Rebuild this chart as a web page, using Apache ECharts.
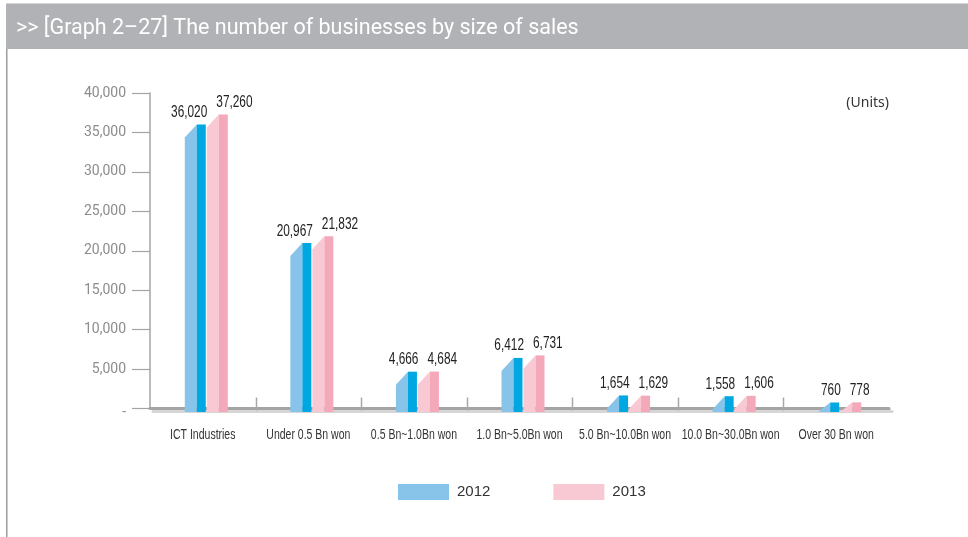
<!DOCTYPE html>
<html><head><meta charset="utf-8">
<script src="https://cdn.jsdelivr.net/npm/echarts@6/dist/echarts.min.js"></script>
<style>html,body{margin:0;padding:0;background:#fff;}#c{width:968px;height:537px;}</style>
</head><body><div id="c"></div>
<script>
const categories = ['ICT Industries','Under 0.5 Bn won','0.5 Bn~1.0Bn won','1.0 Bn~5.0Bn won','5.0 Bn~10.0Bn won','10.0 Bn~30.0Bn won','Over 30 Bn won'];
const values2012 = [36020, 20967, 4666, 6412, 1654, 1558, 760];
const values2013 = [37260, 21832, 4684, 6731, 1629, 1606, 778];
const seriesNames = ['2012', '2013'];
const yTicks = [0, 5000, 10000, 15000, 20000, 25000, 30000, 35000, 40000];

const SANS = "'Liberation Sans', Arial, sans-serif";
const frontColors = ['#00A7E1', '#F4A9BB'];
const sideColors = ['#88C4EA', '#F9C9D3'];

function fmt(v){ return v.toLocaleString('en-US'); }

function makeRender(s){
  return function(params, api){
    const idx = api.value(0), val = api.value(1);
    const base = api.coord([idx, 0]);
    const top = api.coord([idx, val]);
    const w = api.size([1, 0])[0];
    const k = w / 105.5;
    const cx = base[0] + 3.5 * k;
    const floorY = base[1] + 3.5;
    const topY = top[1];
    let sideL, sideR, frontR;
    if (s === 0) { sideL = cx - 21.5*k; sideR = cx - 9.5*k; frontR = cx - 0.5*k; }
    else { sideL = cx + 0.5*k; sideR = cx + 12.5*k; frontR = cx + 21.5*k; }
    const sideTopL = Math.min(floorY, topY + 13);
    const children = [
      {type:'polygon', shape:{points:[[sideL,floorY],[sideL,sideTopL],[sideR,topY],[sideR,floorY]]}, style:{fill:sideColors[s]}},
      {type:'rect', shape:{x:sideR, y:topY, width:frontR-sideR, height:floorY-topY}, style:{fill:frontColors[s]}},
      {type:'text', x: s===0 ? cx + 1*k : cx + 10*k, y: topY - 4, scaleX:0.74,
        style:{text:fmt(val), x:0, y:0,
        align: s===0 ? 'right' : 'left', verticalAlign:'bottom', fill:'#222', font:"16px " + SANS}}
    ];
    return {type:'group', children};
  };
}

function renderCategoryLabel(params, api){
  const idx = api.value(0);
  const base = api.coord([idx, 0]);
  const w = api.size([1, 0])[0];
  const children = [
    {type:'text', x: base[0], y: base[1] + 26.5, scaleX:0.7,
      style:{text: categories[idx], x:0, y:0, align:'center', verticalAlign:'middle', fill:'#333', font:"15px " + SANS}}
  ];
  if (idx > 0) {
    const bx = Math.round(base[0] - w / 2) + 0.5;
    children.push({type:'line', shape:{x1:bx, y1:base[1] + 2, x2:bx, y2:base[1] - 11}, style:{stroke:'#A8A8A8', lineWidth:1.5}});
  }
  return {type:'group', children};
}

const chart = echarts.init(document.getElementById('c'), null, {renderer:'canvas'});
const option = {
  animation:false,
  backgroundColor:'#fff',
  grid:{left:150, right:79, top:93, bottom:128.5, containLabel:false},
  legend:{
    left:398, top:484, itemWidth:51, itemHeight:16, itemGap:63, padding:0,
    icon:'rect',
    data: seriesNames,
    textStyle:{fontFamily:SANS, fontSize:15, color:'#333', padding:[0,0,0,3]}
  },
  xAxis:{
    type:'category', data:categories, boundaryGap:true, offset:3,
    axisLine:{lineStyle:{color:'#A4A4A4', width:3, shadowColor:'#D6D6D6', shadowOffsetX:3, shadowOffsetY:3, shadowBlur:0}},
    axisTick:{show:false},
    axisLabel:{show:false}
  },
  yAxis:{
    type:'value', min:0, max:40000, interval:5000,
    axisLine:{show:true, lineStyle:{color:'#A4A4A4', width:1.5}},
    axisTick:{show:true, length:18, lineStyle:{color:'#A4A4A4', width:1.2}},
    splitLine:{show:false},
    axisLabel:{color:'#8C8C8C', fontFamily:'Roboto, sans-serif', fontSize:14, margin:24,
      formatter: v => v === 0 ? '{z|-}' : fmt(v),
      rich:{z:{color:'#8C8C8C', fontSize:14, padding:[7,0,0,0]}}}
  },
  graphic:[
    {type:'rect', shape:{x:6, y:3, width:962, height:1}, style:{fill:'#D4D4D4'}},
    {type:'rect', shape:{x:6, y:4, width:962, height:45}, style:{fill:'#B1B2B6'}},
    {type:'rect', shape:{x:6, y:49, width:1.5, height:488}, style:{fill:'#9C9C9C'}},
    {type:'text', style:{text:'>> [Graph 2–27] The number of businesses by size of sales', x:16, y:29, verticalAlign:'middle', fill:'#fff', font:"21.5px Roboto, 'Noto Sans', sans-serif"}},
    {type:'text', style:{text:'(Units)', x:889, y:103, align:'right', verticalAlign:'middle', fill:'#333', font:"14px 'Noto Sans', sans-serif"}}
  ],
  series: seriesNames.map((name, s) => ({
    name, type:'custom',
    itemStyle:{color: sideColors[s]},
    encode:{x:0, y:1},
    renderItem: makeRender(s),
    data: (s===0 ? values2012 : values2013).map((v,i)=>[i, v])
  })).concat([{
    name:'categoryLabels', type:'custom', silent:true, clip:false,
    encode:{x:0, y:1},
    renderItem: renderCategoryLabel,
    data: categories.map((c,i)=>[i, 0])
  }])
};
chart.setOption(option);
</script></body></html>
